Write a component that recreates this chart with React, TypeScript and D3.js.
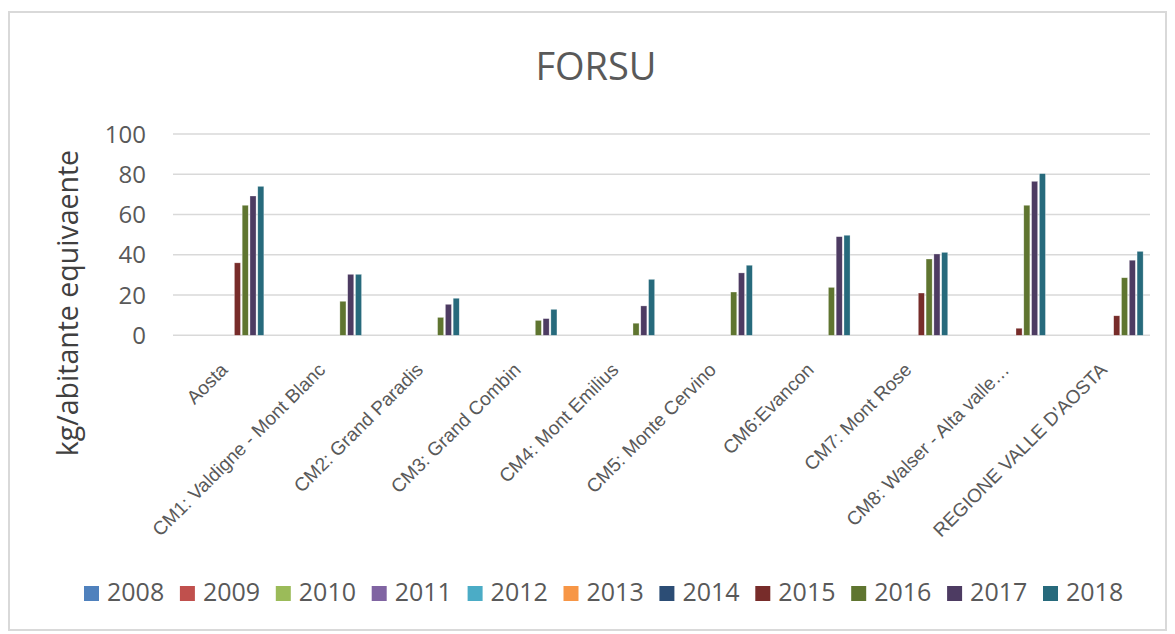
import React from 'react';
import * as d3 from 'd3';

const categories = [
  'Aosta',
  'CM1: Valdigne - Mont Blanc',
  'CM2: Grand Paradis',
  'CM3: Grand Combin',
  'CM4: Mont Emilius',
  'CM5: Monte Cervino',
  'CM6:Evancon',
  'CM7: Mont Rose',
  'CM8: Walser - Alta valle…',
  "REGIONE VALLE D'AOSTA",
];
const years = ['2008', '2009', '2010', '2011', '2012', '2013', '2014', '2015', '2016', '2017', '2018'];
const colors = ['#4F81BD', '#C0504D', '#9BBB59', '#8064A2', '#4BACC6', '#F79646', '#2C4D75', '#772C2A', '#5F7530', '#4D3B62', '#276A7C'];

// 2008-2014: no data
const empty: (number | null)[] = [null, null, null, null, null, null, null, null, null, null];
const v2015 = [36, null, null, null, null, null, null, 21, 3.5, 9.7];
const v2016 = [64.6, 16.9, 8.9, 7.4, 6.0, 21.5, 23.8, 37.9, 64.6, 28.6];
const v2017 = [69.2, 30.3, 15.4, 8.3, 14.6, 31, 49, 40.4, 76.5, 37.3];
const v2018 = [74, 30.3, 18.4, 12.9, 27.8, 34.8, 49.7, 41.2, 80.3, 41.7];
const series = [empty, empty, empty, empty, empty, empty, empty, v2015, v2016, v2017, v2018];
const yTicks = [0, 20, 40, 60, 80, 100];

const W = 1175;
const H = 634;

export default function App() {
  const x0 = d3.scaleBand().domain(categories).range([173, 1150]).padding(0);
  const groupW = 84;
  const x1 = d3.scaleBand().domain(years).range([-groupW / 2, groupW / 2]).paddingInner(0.22).paddingOuter(0);
  const y = d3.scaleLinear().domain([0, 100]).range([335.3, 134]);
  const font = "'Open Sans', sans-serif";

  return (
    <svg width={W} height={H} style={{ position: 'absolute', left: 0, top: 0, background: '#fff' }}>
      <rect x={9} y={12} width={1157} height={618} fill="#fff" stroke="#d9d9d9" strokeWidth={2} />
      <text x={596} y={80} textAnchor="middle" fontFamily={font} fontSize={38} fill="#595959">FORSU</text>

      {yTicks.map((t) => (
        <g key={t}>
          <line x1={173} x2={1150} y1={y(t)} y2={y(t)} stroke="#d9d9d9" strokeWidth={1.6} />
          <text x={146} y={y(t)} dy="0.36em" textAnchor="end" fontFamily={font} fontSize={24} fill="#595959">{t}</text>
        </g>
      ))}

      <text transform="translate(78,303) rotate(-90)" textAnchor="middle" fontFamily={font} fontSize={28.5} fill="#404040">
        kg/abitante equivaente
      </text>

      {series.map((vals, si) =>
        vals.map((v, ci) => {
          if (v == null) return null;
          const cx = (x0(categories[ci]) as number) + x0.bandwidth() / 2;
          return (
            <rect
              key={si + '-' + ci}
              x={cx + (x1(years[si]) as number)}
              y={y(v)}
              width={x1.bandwidth()}
              height={y(0) - y(v)}
              fill={colors[si]}
              stroke="#ffffff"
              strokeOpacity={0.5}
              strokeWidth={0.6}
            />
          );
        })
      )}

      {categories.map((c) => {
        const cx = (x0(c) as number) + x0.bandwidth() / 2;
        return (
          <text
            key={c}
            transform={`translate(${cx + 7},371) rotate(-45)`}
            textAnchor="end"
            fontFamily="'Liberation Sans', Arial, sans-serif"
            fontSize={19}
            fill="#595959"
          >
            {c}
          </text>
        );
      })}

      {years.map((yr, i) => {
        const lx = 84 + i * 95.9;
        return (
          <g key={yr}>
            <rect x={lx} y={586} width={15} height={15} fill={colors[i]} />
            <text x={lx + 23} y={601} fontFamily={font} fontSize={25} fill="#595959">{yr}</text>
          </g>
        );
      })}
    </svg>
  );
}
